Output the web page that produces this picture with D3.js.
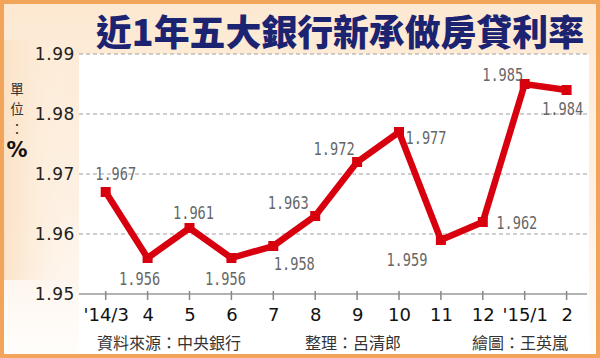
<!DOCTYPE html>
<html><head><meta charset="utf-8">
<script src="https://cdn.jsdelivr.net/npm/d3@7"></script>
<style>
html,body{margin:0;padding:0;background:#fff;}
svg{display:block;}
</style></head>
<body>
<svg id="c" width="600" height="358"></svg>
<script>
// ---- data ----
const categories = ["'14/3","4","5","6","7","8","9","10","11","12","'15/1","2"];
const rates = [1.967,1.956,1.961,1.956,1.958,1.963,1.972,1.977,1.959,1.962,1.985,1.984];
const yTicks = [1.95,1.96,1.97,1.98,1.99];
const title = "近1年五大銀行新承做房貸利率";
const unitChars = ["單","位","："];
const footers = ["資料來源：中央銀行","整理：呂清郎","繪圖：王英嵐"];
// label placement (offset from point), styling only
const labelDx = [10,-8,4,-6,21,-27,-23,27,-34,34,-22,-4];
const labelDy = [-19,20,-16,20,17,-14,-14,5,19,0,-10,18];

const svg = d3.select("#c");
const W = 600, H = 358;
const defs = svg.append("defs");
const g1 = defs.append("linearGradient").attr("id","bg").attr("x1",0).attr("y1",0).attr("x2",0).attr("y2",1);
g1.append("stop").attr("offset","0%").attr("stop-color","#fde9d2");
g1.append("stop").attr("offset","60%").attr("stop-color","#fdf1e4");
g1.append("stop").attr("offset","100%").attr("stop-color","#fffdfb");
const g2 = defs.append("linearGradient").attr("id","lf").attr("x1",0).attr("y1",0).attr("x2",1).attr("y2",0);
g2.append("stop").attr("offset","0%").attr("stop-color","#fbe2c6");
g2.append("stop").attr("offset","100%").attr("stop-color","#fdf3e6").attr("stop-opacity",0);

// frame
svg.append("rect").attr("x",0).attr("y",0).attr("width",W).attr("height",H).attr("fill","#f2a45a");
svg.append("rect").attr("x",4).attr("y",4).attr("width",W-8).attr("height",H-8).attr("fill","url(#bg)");
svg.append("rect").attr("x",4).attr("y",40).attr("width",70).attr("height",240).attr("fill","url(#lf)");

// scales
const x = d3.scalePoint().domain(categories).range([105.7,566.6]);
const y = d3.scaleLinear().domain([1.95,1.99]).range([294,54]);

// plot area (white)
svg.append("rect").attr("x",79).attr("y",y(1.99)).attr("width",510).attr("height",H-4-y(1.99)).attr("fill","#ffffff");

// title
svg.append("text").attr("x",340).attr("y",30).attr("text-anchor","middle").attr("dominant-baseline","central")
  .attr("font-family","'Noto Sans CJK TC'").attr("font-weight",900).attr("font-size",36)
  .attr("fill","#1c2472").attr("textLength",488).attr("lengthAdjust","spacingAndGlyphs")
  .text(title);

// gridlines
svg.append("g").selectAll("line").data(yTicks.filter(d=>d>1.95)).join("line")
  .attr("x1",79).attr("x2",589).attr("y1",d=>y(d)).attr("y2",d=>y(d))
  .attr("stroke","#a0a0a0").attr("stroke-width",1.2).attr("stroke-dasharray","4,3");

// y axis labels
const yAxis = d3.axisLeft(y).tickValues(yTicks).tickSize(0).tickPadding(3).tickFormat(d3.format(".2f"));
const ya = svg.append("g").attr("transform","translate(78,0)").call(yAxis);
ya.select(".domain").remove();
ya.selectAll("text").attr("font-family","'DejaVu Sans'").attr("font-size",17).attr("fill","#222")
  .attr("letter-spacing","0.6px");

// x axis
const xAxis = d3.axisBottom(x).tickSize(0).tickPadding(14);
const xa = svg.append("g").attr("transform",`translate(0,${y(1.95)})`).call(xAxis);
xa.select(".domain").remove();
xa.selectAll("text").attr("font-family","'DejaVu Sans'").attr("font-size",18).attr("fill","#111");
svg.append("line").attr("x1",79).attr("x2",587).attr("y1",y(1.95)).attr("y2",y(1.95))
  .attr("stroke","#999").attr("stroke-width",1.5);
svg.append("g").selectAll("line").data(categories).join("line")
  .attr("x1",d=>x(d)).attr("x2",d=>x(d)).attr("y1",y(1.95)-3).attr("y2",y(1.95)+6)
  .attr("stroke","#888").attr("stroke-width",1.5);

// line
const pts = categories.map((c,i)=>({c, v:rates[i], i}));
svg.append("path").datum(pts)
  .attr("d",d3.line().x(d=>x(d.c)).y(d=>y(d.v)))
  .attr("fill","none").attr("stroke","#d8000e").attr("stroke-width",6.5).attr("stroke-linejoin","miter");
svg.append("g").selectAll("rect").data(pts).join("rect")
  .attr("x",d=>x(d.c)-5).attr("y",d=>y(d.v)-5).attr("width",10).attr("height",10).attr("fill","#d8000e");

// value labels
svg.append("g").selectAll("text").data(pts).join("text")
  .attr("x",d=>x(d.c)+labelDx[d.i]).attr("y",d=>y(d.v)+labelDy[d.i])
  .attr("text-anchor","middle").attr("dominant-baseline","central")
  .attr("font-family","'DejaVu Sans Mono'").attr("font-size",18).attr("fill","#666")
  .attr("textLength",41).attr("lengthAdjust","spacingAndGlyphs")
  .text(d=>d3.format(".3f")(d.v));

// unit
svg.append("g").selectAll("text").data(unitChars).join("text")
  .attr("x",17).attr("y",(d,i)=>88+i*20).attr("text-anchor","middle").attr("dominant-baseline","central")
  .attr("font-family","'Noto Sans CJK TC'").attr("font-size",13.5).attr("fill","#333").text(d=>d);
svg.append("text").attr("x",17).attr("y",150).attr("text-anchor","middle").attr("dominant-baseline","central")
  .attr("font-family","'DejaVu Sans'").attr("font-weight","bold").attr("font-size",21).attr("fill","#111").text("%");

// footers
const fx = [97,305,472];
svg.append("g").selectAll("text").data(footers).join("text")
  .attr("x",(d,i)=>fx[i]).attr("y",342).attr("dominant-baseline","central")
  .attr("font-family","'Noto Sans CJK TC'").attr("font-size",16).attr("fill","#333").text(d=>d);
</script>
</body></html>
